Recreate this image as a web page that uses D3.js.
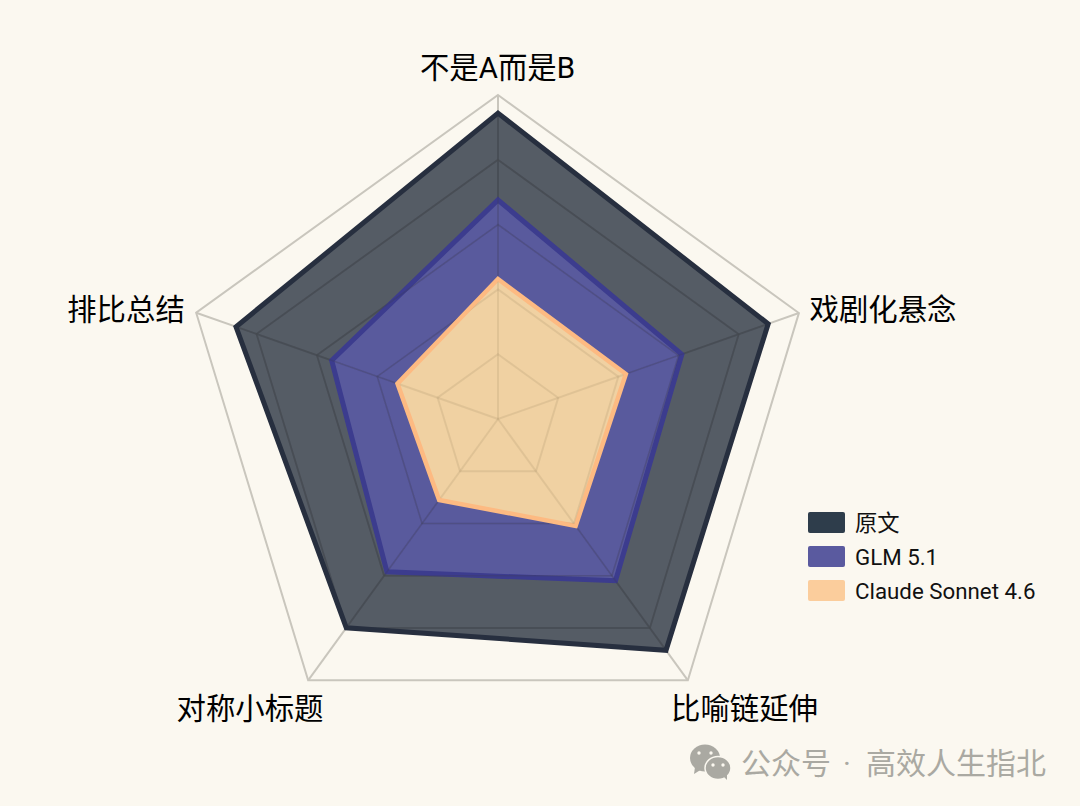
<!DOCTYPE html>
<html><head><meta charset="utf-8">
<script src="https://cdn.jsdelivr.net/npm/d3@7"></script>
<style>html,body{margin:0;padding:0;background:#fbf8f0}svg{display:block}
text{font-family:Roboto,"Noto Sans CJK SC",sans-serif}</style></head>
<body><svg id="c" width="1080" height="806"></svg>
<script>
const axes = ["不是A而是B","戏剧化悬念","比喻链延伸","对称小标题","排比总结"];
const original = [94.4,89.8,88.5,79.9,86.8];
const glm = [67.6,61.1,61.9,58.5,55.1];
const claude = [43.2,42.5,40.9,31.0,33.3];
const seriesNames = ["原文","GLM 5.1","Claude Sonnet 4.6"];
const ringTicks = [20,40,60,80,100];

const svg = d3.select("#c");
const cx = 498, cy = 419;
const r = d3.scaleLinear().domain([0,100]).range([0,1]);
// the reference pentagon is not quite regular: each spoke has its own bearing and length
const bearing = d3.scaleOrdinal().domain(axes).range([0,70.6,144,216,289.4]);
const reach = d3.scaleOrdinal().domain(axes).range([324,319,323,323,320]);
const pt = (a,v)=>{const t=bearing(a)*Math.PI/180,l=reach(a)*r(v);return [cx+l*Math.sin(t),cy-l*Math.cos(t)];};
const line = d3.line().curve(d3.curveLinearClosed);
const shape = v=>line(axes.map((a,i)=>pt(a,v[i])));

function drawGrid(g,color,op,w){
  g.selectAll("path").data(ringTicks).join("path")
    .attr("d",t=>line(axes.map(a=>pt(a,t)))).attr("fill","none").attr("stroke",color).attr("stroke-opacity",op).attr("stroke-width",w);
  g.selectAll("line").data(axes).join("line")
    .attr("x1",cx).attr("y1",cy).attr("x2",a=>pt(a,100)[0]).attr("y2",a=>pt(a,100)[1])
    .attr("stroke",color).attr("stroke-opacity",op).attr("stroke-width",w);
}
drawGrid(svg.append("g"),"#c9c6bd",1,2);

const styles = [
 {v:original,fill:"#2c3442",fo:.8,stroke:"#272f3f",sw:5,leg:"#2e3d4b"},
 {v:glm,fill:"#5a5aa0",fo:.95,stroke:"#3c3c8e",sw:5,leg:"#5a5a9f"},
 {v:claude,fill:"#fcdaa3",fo:.93,stroke:"#fdba82",sw:4.5,leg:"#fbcd9c"}
];
const areas = svg.append("g");
const addArea = s=>areas.append("path").attr("d",shape(s.v))
  .attr("fill",s.fill).attr("fill-opacity",s.fo)
  .attr("stroke",s.stroke).attr("stroke-width",s.sw).attr("stroke-linejoin","miter");
addArea(styles[0]); addArea(styles[1]);

// grid showing faintly through the filled areas
svg.append("clipPath").attr("id","inOrig").append("path").attr("d",line(axes.map((a,i)=>pt(a,original[i]-1))));
svg.append("clipPath").attr("id","inGlm").append("path").attr("d",line(axes.map((a,i)=>pt(a,glm[i]-1))));
svg.append("clipPath").attr("id","inClaude").append("path").attr("d",line(axes.map((a,i)=>pt(a,claude[i]-.7))));
drawGrid(areas.append("g").attr("clip-path","url(#inOrig)"),"#3a3a3a",.2,1.5);
drawGrid(areas.append("g").attr("clip-path","url(#inGlm)"),"#3a3a6a",.12,1.5);
addArea(styles[2]);
drawGrid(areas.append("g").attr("clip-path","url(#inClaude)"),"#a8906c",.22,2);

const labelPos = [[497.5,68],[883,310],[744.5,709],[250,709],[126,310]];
svg.append("g").selectAll("text").data(axes).join("text")
  .attr("x",(d,i)=>labelPos[i][0]).attr("y",(d,i)=>labelPos[i][1])
  .attr("text-anchor","middle").attr("dominant-baseline","central")
  .attr("font-size",29.4).attr("fill","#000").text(d=>d);

const legY = d3.scalePoint().domain(seriesNames).range([523,591]);
const leg = svg.append("g").selectAll("g").data(seriesNames).join("g");
leg.append("rect").attr("x",808).attr("y",d=>legY(d)-11).attr("width",37).attr("height",21).attr("rx",2)
  .attr("fill",(d,i)=>styles[i].leg);
leg.append("text").attr("x",855).attr("y",d=>legY(d)).attr("dominant-baseline","central")
  .attr("font-size",22.3).attr("fill","#111").text(d=>d);

// watermark
const wm = svg.append("g").attr("fill","#aaa9a2");
wm.append("ellipse").attr("cx",705).attr("cy",758).attr("rx",15).attr("ry",13.5);
wm.append("path").attr("d","M695 767 l-1 7 l8 -5z");
wm.append("ellipse").attr("cx",718).attr("cy",768).attr("rx",13).attr("ry",11.5).attr("stroke","#fbf8f0").attr("stroke-width",1.5);
wm.append("path").attr("d","M724 777 l3 3 l0 -6z");
[[699,753],[711,753],[713,765],[723,765]].forEach(p=>wm.append("circle").attr("cx",p[0]).attr("cy",p[1]).attr("r",1.7).attr("fill","#fbf8f0"));
const wmParts = [["公众号",741,"start"],["·",847,"middle"],["高效人生指北",866,"start"]];
svg.append("g").selectAll("text").data(wmParts).join("text")
  .attr("x",d=>d[1]).attr("y",763).attr("text-anchor",d=>d[2]).attr("dominant-baseline","central")
  .attr("font-size",30).attr("fill","#aaa9a2").text(d=>d[0]);
</script></body></html>
